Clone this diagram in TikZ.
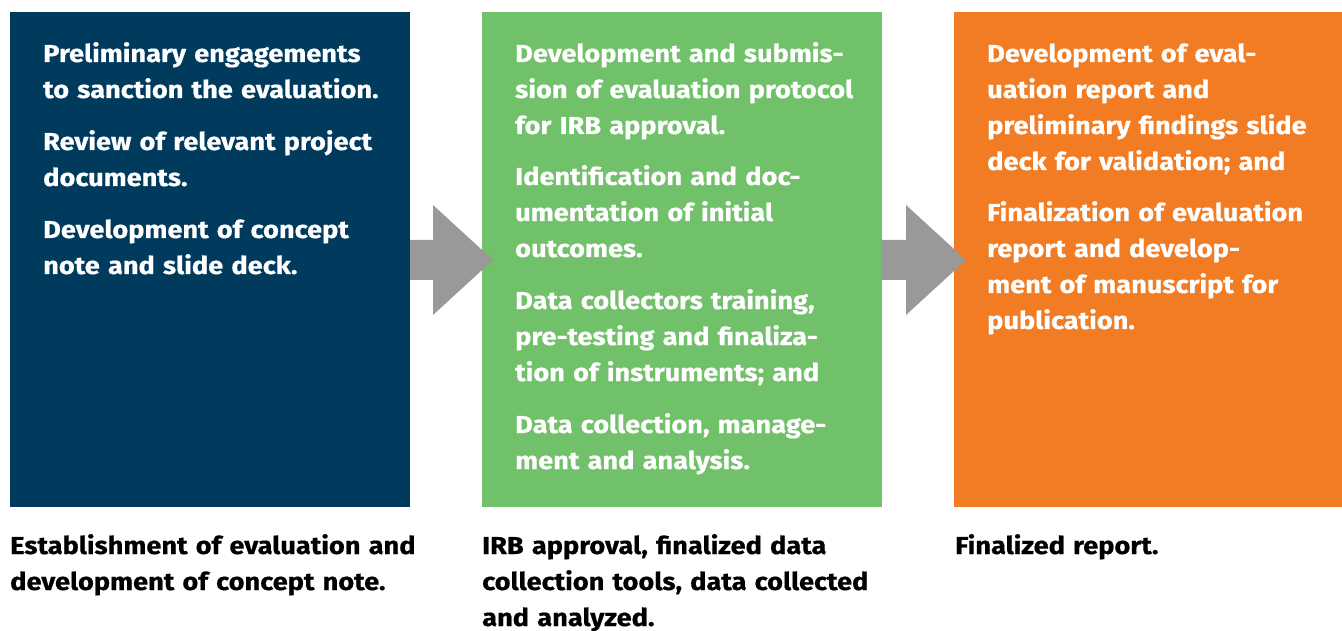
\documentclass[tikz,border=0pt]{standalone}
\usepackage{fontspec}
\setmainfont{Fira Sans}[BoldFont={* Bold}, BoldFeatures={FakeStretch=1.11, FakeBold=0.6}]
\definecolor{boxblue}{RGB}{0,58,93}
\definecolor{boxgreen}{RGB}{113,193,106}
\definecolor{boxorange}{RGB}{242,124,36}
\definecolor{arrowgray}{RGB}{153,153,153}
\tikzset{
  stagebox/.style={fill=#1, draw=none},
  para/.style={anchor=base west, inner sep=0pt, text width=420pt, align=left,
    font=\fontsize{24.5}{36}\selectfont\bfseries, text=white},
  caption/.style={para, text=black},
  flowarrow/.style={fill=arrowgray, draw=none}
}
\begin{document}
\begin{tikzpicture}[x=1pt,y=-1pt]
\useasboundingbox (0,0) rectangle (1342,631);
% boxes
\fill[stagebox=boxblue] (10,12) rectangle (410,507);
\fill[stagebox=boxgreen] (482,12) rectangle (882,507);
\fill[stagebox=boxorange] (954,12) rectangle (1342,507);
% arrows
\fill[flowarrow] (410,240) -- (433,240) -- (433,205) -- (493,260) -- (433,315) -- (433,280) -- (410,280) -- cycle;
\fill[flowarrow] (882,240) -- (906,240) -- (906,205) -- (966,260) -- (906,315) -- (906,280) -- (882,280) -- cycle;
% blue box text
\node[para] (b1) at (43,62) {Preliminary engagements\\to sanction the evaluation.};
\node[para] (b2) at (43,150) {Review of relevant project\\documents.};
\node[para] (b3) at (43,238) {Development of concept\\note and slide deck.};
% green box text
\node[para] (g1) at (515,62) {Development and submis-\\sion of evaluation protocol\\for IRB approval.};
\node[para] (g2) at (515,185) {Identification and doc-\\umentation of initial\\outcomes.};
\node[para] (g3) at (515,309) {Data collectors training,\\pre-testing and finaliza-\\tion of instruments; and};
\node[para] (g4) at (515,433) {Data collection, manage-\\ment and analysis.};
% orange box text
\node[para] (o1) at (987,62) {Development of eval-\\uation report and\\preliminary findings slide\\deck for validation; and};
\node[para] (o2) at (987,221) {Finalization of evaluation\\report and develop-\\ment of manuscript for\\publication.};
% captions
\node[caption] (c1) at (10,554) {Establishment of evaluation and\\development of concept note.};
\node[caption] (c2) at (482,554) {IRB approval, finalized data\\collection tools, data collected\\and analyzed.};
\node[caption] (c3) at (955,554) {Finalized report.};
\end{tikzpicture}
\end{document}
